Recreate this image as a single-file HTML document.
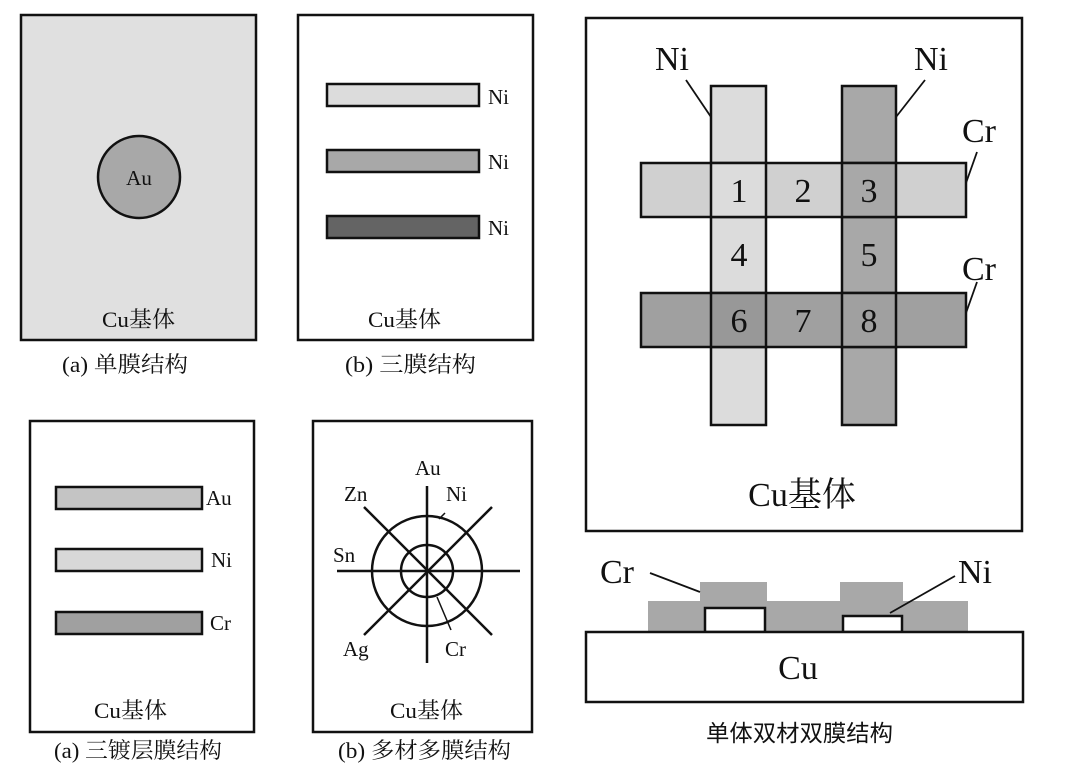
<!DOCTYPE html>
<html><head><meta charset="utf-8"><style>
html,body{margin:0;padding:0;background:#fff;}
svg{display:block;}
text{font-family:"Liberation Serif","Noto Serif CJK SC",serif;fill:#111;}
.cn{font-family:"Liberation Serif","Noto Sans CJK SC",sans-serif;}
</style></head><body>
<svg width="1080" height="770" viewBox="0 0 1080 770" xmlns="http://www.w3.org/2000/svg">
<g stroke="#111" stroke-width="2.5">
<rect x="21" y="15" width="235" height="325" fill="#e0e0e0"/>
<circle cx="139" cy="177" r="41" fill="#a8a8a8"/>
<rect x="298" y="15" width="235" height="325" fill="#fff"/>
<rect x="327" y="84" width="152" height="22" fill="#dcdcdc"/>
<rect x="327" y="150" width="152" height="22" fill="#a8a8a8"/>
<rect x="327" y="216" width="152" height="22" fill="#646464"/>
<rect x="30" y="421" width="224" height="311" fill="#fff"/>
<rect x="56" y="487" width="146" height="22" fill="#c4c4c4"/>
<rect x="56" y="549" width="146" height="22" fill="#d8d8d8"/>
<rect x="56" y="612" width="146" height="22" fill="#a0a0a0"/>
<rect x="313" y="421" width="219" height="311" fill="#fff"/>
<circle cx="427" cy="571" r="55" fill="none"/>
<circle cx="427" cy="571" r="26" fill="none"/>
<line x1="337" y1="571" x2="520" y2="571"/>
<line x1="427" y1="486" x2="427" y2="663"/>
<line x1="364" y1="507" x2="492" y2="635"/>
<line x1="492" y1="507" x2="364" y2="635"/>
<line x1="439" y1="519" x2="445" y2="513" stroke-width="1.5"/>
<line x1="437" y1="597" x2="451" y2="630" stroke-width="1.5"/>
<rect x="586" y="18" width="436" height="513" fill="#fff"/>
<rect x="711" y="86" width="55" height="339" fill="#dcdcdc"/>
<rect x="842" y="86" width="54" height="339" fill="#a8a8a8"/>
<rect x="641" y="163" width="325" height="54" fill="#d0d0d0"/>
<rect x="641" y="293" width="325" height="54" fill="#a0a0a0"/>
<rect x="711" y="163" width="55" height="54" fill="#dcdcdc"/>
<rect x="842" y="163" width="54" height="54" fill="#a8a8a8"/>
<rect x="711" y="293" width="55" height="54" fill="#989898"/>
<rect x="842" y="293" width="54" height="54" fill="#a0a0a0"/>
<line x1="686" y1="80" x2="711" y2="117" stroke-width="1.8"/>
<line x1="925" y1="80" x2="896" y2="117" stroke-width="1.8"/>
<line x1="977" y1="152" x2="966" y2="183" stroke-width="1.8"/>
<line x1="977" y1="282" x2="966" y2="313" stroke-width="1.8"/>
<rect x="648" y="601" width="320" height="31" fill="#a8a8a8" stroke="none"/>
<rect x="700" y="582" width="67" height="20" fill="#a8a8a8" stroke="none"/>
<rect x="840" y="582" width="63" height="20" fill="#a8a8a8" stroke="none"/>
<rect x="705" y="608" width="60" height="24" fill="#fff"/>
<rect x="843" y="616" width="59" height="16" fill="#fff"/>
<rect x="586" y="632" width="437" height="70" fill="#fff"/>
<line x1="650" y1="573" x2="700" y2="592" stroke-width="1.8"/>
<line x1="955" y1="576" x2="890" y2="613" stroke-width="1.8"/>
</g>
<g font-size="21">
<text x="139" y="185" text-anchor="middle">Au</text>
<text x="488" y="104">Ni</text><text x="488" y="169">Ni</text><text x="488" y="235">Ni</text>
<text x="206" y="505">Au</text><text x="211" y="567">Ni</text><text x="210" y="630">Cr</text>
<text x="415" y="475">Au</text><text x="446" y="501">Ni</text><text x="344" y="501">Zn</text>
<text x="333" y="562">Sn</text><text x="343" y="656">Ag</text><text x="445" y="656">Cr</text>
</g>
<g font-size="22">
<text x="102" y="327" textLength="73" lengthAdjust="spacingAndGlyphs">Cu基体</text>
<text x="368" y="327" textLength="73" lengthAdjust="spacingAndGlyphs">Cu基体</text>
<text x="94" y="718" textLength="73" lengthAdjust="spacingAndGlyphs">Cu基体</text>
<text x="390" y="718" textLength="73" lengthAdjust="spacingAndGlyphs">Cu基体</text>
<text x="62" y="372" textLength="126" lengthAdjust="spacingAndGlyphs">(a) 单膜结构</text>
<text x="345" y="372" textLength="131" lengthAdjust="spacingAndGlyphs">(b) 三膜结构</text>
<text x="54" y="758" textLength="168" lengthAdjust="spacingAndGlyphs">(a) 三镀层膜结构</text>
<text x="338" y="758" textLength="173" lengthAdjust="spacingAndGlyphs">(b) 多材多膜结构</text>
</g>
<g font-size="34">
<text x="655" y="70">Ni</text><text x="914" y="70">Ni</text>
<text x="962" y="142">Cr</text><text x="962" y="280">Cr</text>
<text x="739" y="202" text-anchor="middle">1</text><text x="803" y="202" text-anchor="middle">2</text><text x="869" y="202" text-anchor="middle">3</text>
<text x="739" y="266" text-anchor="middle">4</text><text x="869" y="266" text-anchor="middle">5</text>
<text x="739" y="332" text-anchor="middle">6</text><text x="803" y="332" text-anchor="middle">7</text><text x="869" y="332" text-anchor="middle">8</text>
<text x="802" y="506" text-anchor="middle">Cu基体</text>
<text x="600" y="583">Cr</text><text x="958" y="583">Ni</text>
<text x="798" y="679" text-anchor="middle">Cu</text>
</g>
<text class="cn" x="706" y="741" font-size="23" textLength="187" lengthAdjust="spacingAndGlyphs">单体双材双膜结构</text>
</svg>
</body></html>
